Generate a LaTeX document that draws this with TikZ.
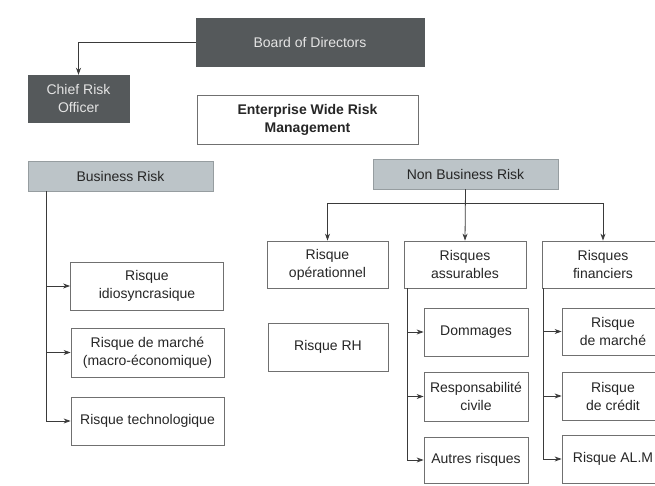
\documentclass[tikz,border=0pt]{standalone}
\usepackage{fontspec}
\setmainfont{Liberation Sans}
\usetikzlibrary{arrows.meta,calc}
\definecolor{darkbox}{HTML}{55595B}
\definecolor{greybox}{HTML}{BCC4C8}
\definecolor{boxline}{HTML}{707070}
\definecolor{wire}{HTML}{3A3A3A}
\definecolor{lighttext}{HTML}{E4E4E4}
\begin{document}
\begin{tikzpicture}[x=1pt,y=-1pt,
  every node/.style={font=\fontsize{14}{18}\selectfont, inner sep=0pt, align=center, text=black!85},
  riskbox/.style={draw=boxline, line width=0.8pt, fill=white},
  headbox/.style={draw=darkbox, fill=darkbox, text=lighttext},
  catbox/.style={draw=greybox!80!black, line width=0.5pt, fill=greybox},
  wirestyle/.style={draw=wire, line width=0.8pt},
  arr/.style={wirestyle, -{Stealth[length=7pt,width=5pt]}}]
\useasboundingbox (0,0) rectangle (655,486);
\clip (0,0) rectangle (655,486);
\fill[white] (0,0) rectangle (655,486);

% governance
\node[headbox, minimum width=228pt, minimum height=48pt] (board) at (310,42) {Board of Directors};
\node[headbox, minimum width=101pt, minimum height=47pt] (cro) at (78.5,98.5) {Chief Risk\\Officer};
\node[riskbox, minimum width=221pt, minimum height=49pt, font=\fontsize{14}{18}\selectfont\bfseries] (ewrm) at (307.5,119.5) {Enterprise Wide Risk\\Management};

% risk families
\node[catbox, minimum width=185pt, minimum height=30pt] (br) at (120.5,176) {Business Risk};
\node[catbox, minimum width=185pt, minimum height=30pt] (nbr) at (465.5,174) {Non Business Risk};

% business risks
\node[riskbox, minimum width=153pt, minimum height=48pt] (idio) at (147,286) {Risque\\idiosyncrasique};
\node[riskbox, minimum width=153pt, minimum height=49pt] (macro) at (147.5,352.5) {Risque de marché\\(macro-économique)};
\node[riskbox, minimum width=153pt, minimum height=48pt] (techno) at (147.5,421) {Risque technologique};

% non business risks
\node[riskbox, minimum width=121pt, minimum height=47pt] (oper) at (327.5,264.5) {Risque\\opérationnel};
\node[riskbox, minimum width=122pt, minimum height=47pt] (assur) at (465,264.5) {Risques\\assurables};
\node[riskbox, minimum width=122pt, minimum height=47pt] (fin) at (603,264.5) {Risques\\financiers};
\node[riskbox, minimum width=120pt, minimum height=48pt] (rh) at (328,347) {Risque RH};

\node[riskbox, minimum width=104pt, minimum height=48pt] (domm) at (476,332) {Dommages};
\node[riskbox, minimum width=104pt, minimum height=49pt] (resp) at (476,396.5) {Responsabilité\\civile};
\node[riskbox, minimum width=104pt, minimum height=46pt] (autres) at (476,460) {Autres risques};

\node[riskbox, minimum width=102pt, minimum height=47pt] (rmar) at (613,331.5) {Risque\\de marché};
\node[riskbox, minimum width=102pt, minimum height=48pt] (rcred) at (613,396) {Risque\\de crédit};
\node[riskbox, minimum width=102pt, minimum height=48pt] (ralm) at (613,459) {Risque AL.M};

% board to chief risk officer
\draw[arr] (board.west) -| (cro.north);

% business risk trunk
\coordinate (brt) at ($(br.south west)+(19,0)$);
\draw[arr] (brt) |- (techno.west);
\draw[arr] (brt |- idio.west) -- (idio.west);
\draw[arr] (brt |- macro.west) -- (macro.west);

% non business risk branches
\coordinate (nbj) at ($(nbr.south)+(0,14)$);
\draw[arr] (nbr.south) -- (assur.north);
\draw[arr] (nbj) -| (oper.north);
\draw[arr] (nbj) -| (fin.north);

% insurable risks trunk
\coordinate (ast) at ($(assur.south west)+(4,0)$);
\draw[arr] (ast) |- (autres.west);
\draw[arr] (ast |- domm.west) -- (domm.west);
\draw[arr] (ast |- resp.west) -- (resp.west);

% financial risks trunk
\coordinate (fit) at ($(fin.south west)+(2,0)$);
\draw[arr] (fit) |- (ralm.west);
\draw[arr] (fit |- rmar.west) -- (rmar.west);
\draw[arr] (fit |- rcred.west) -- (rcred.west);
\end{tikzpicture}
\end{document}
